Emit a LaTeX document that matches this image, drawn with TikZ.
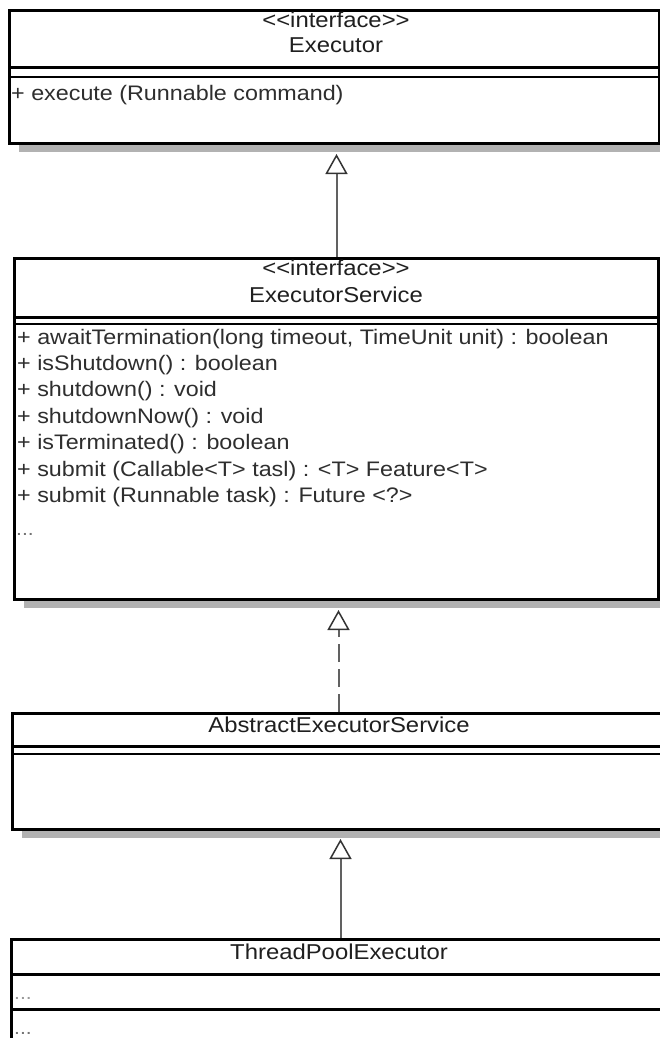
\documentclass[tikz,border=0pt]{standalone}
\usepackage{fontspec}
\newfontfamily\umlfont{Liberation Sans}[FakeStretch=1.11, Ligatures=TeXOff]
\usetikzlibrary{arrows.meta,shadows}
\begin{document}
\begin{tikzpicture}[x=1pt,y=-1pt,
  cls/.style={draw=black, line width=3pt, fill=white, rectangle, inner sep=0pt, anchor=north west,
    drop shadow={shadow xshift=9pt, shadow yshift=-8pt, fill=black!30, opacity=1}},
  septhick/.style={draw=black, line width=3pt},
  septhin/.style={draw=black, line width=2.4pt},
  title/.style={font=\umlfont\fontsize{21.5}{25}\selectfont, text=black!88, inner sep=0pt, anchor=mid},
  member/.style={font=\umlfont\fontsize{21}{25}\selectfont, text=black!82, inner sep=0pt, anchor=mid west},
  dots/.style={font=\umlfont\fontsize{19}{23}\selectfont, text=black!55, inner sep=0pt, anchor=base west},
  gen/.style={draw=black!62, line width=2pt,
    -{Triangle[length=20pt, width=22pt, fill=white, color=black!80, line width=1.5pt]}},
  realize/.style={gen, dash pattern=on 18pt off 7pt}
]
\useasboundingbox (0,0) rectangle (660,1038);
\clip (0,0) rectangle (660,1038);

% ---------- Executor ----------
\node[cls, minimum width=650pt, minimum height=133pt] (ex) at (8,9) {};
\coordinate (exs1) at (0,68);
\coordinate (exs2) at (0,77);
\draw[septhick] (ex.west |- exs1) -- (ex.east |- exs1);
\draw[septhin] (ex.west |- exs2) -- (ex.east |- exs2);
\node[title] (exst) at (336,25) {<<interface>>};
\node[title] (exname) at (336,50) {Executor};
\node[member] (exm1) at (11,98) {+ execute (Runnable command)};

% ---------- ExecutorService ----------
\node[cls, minimum width=644pt, minimum height=341pt] (es) at (13,257) {};
\coordinate (ess1) at (0,317);
\coordinate (ess2) at (0,324);
\draw[septhick] (es.west |- ess1) -- (es.east |- ess1);
\draw[septhin] (es.west |- ess2) -- (es.east |- ess2);
\node[title] (esst) at (336,273) {<<interface>>};
\node[title] (esname) at (336,300) {ExecutorService};
\foreach \txt [count=\i from 0] in {
  {+ awaitTermination(long timeout, TimeUnit unit) : boolean},
  {+ isShutdown() : boolean},
  {+ shutdown() : void},
  {+ shutdownNow() : void},
  {+ isTerminated() : boolean},
  {+ submit (Callable<T> tasl) : <T> Feature<T>},
  {+ submit (Runnable task) : Future <?>}}{
  \node[member] (esm\i) at (17,342+26.4*\i) {\txt};
}
\node[dots] (esdots) at (16,535) {...};

% ---------- AbstractExecutorService ----------
\node[cls, minimum width=652pt, minimum height=116pt] (abs) at (11,712) {};
\coordinate (abss1) at (0,746);
\coordinate (abss2) at (0,754);
\draw[septhick] (abs.west |- abss1) -- (abs.east |- abss1);
\draw[septhin] (abs.west |- abss2) -- (abs.east |- abss2);
\node[title] (absname) at (339,730) {AbstractExecutorService};

% ---------- ThreadPoolExecutor ----------
\node[cls, minimum width=658pt, minimum height=140pt] (tpe) at (10,938) {};
\coordinate (tps1) at (0,974);
\coordinate (tps2) at (0,1009);
\draw[septhick] (tpe.west |- tps1) -- (tpe.east |- tps1);
\draw[septhick] (tpe.west |- tps2) -- (tpe.east |- tps2);
\node[title] (tpename) at (339,957) {ThreadPoolExecutor};
\node[dots, text=black!40] (tpdots1) at (14,999) {...};
\node[dots] (tpdots2) at (14,1034) {...};

% ---------- connectors ----------
\coordinate (tip1) at ([yshift=-9pt]es.north |- ex.south);
\coordinate (tip2) at ([yshift=-9pt]abs.north |- es.south);
\coordinate (tip3) at ([yshift=-8pt]tpe.north |- abs.south);
\draw[gen] (es.north) -- (tip1);
\draw[realize] (abs.north) -- (tip2);
\draw[gen] (tpe.north) -- (tip3);
\end{tikzpicture}
\end{document}
